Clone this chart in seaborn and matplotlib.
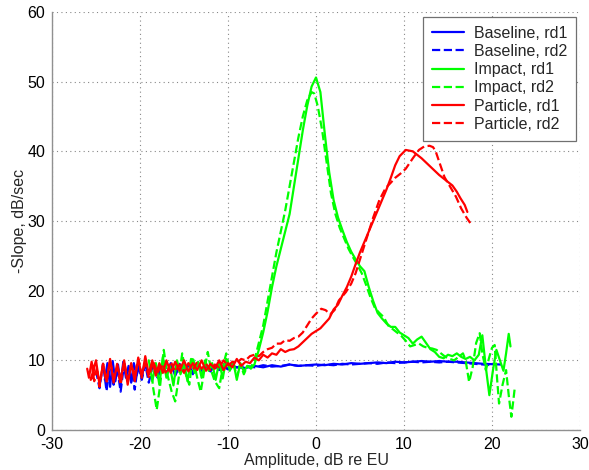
import numpy as np
import pandas as pd
import matplotlib
matplotlib.use("Agg")
import matplotlib.pyplot as plt
import seaborn as sns

# ---------------- data ----------------
base1_x = [-24.0,-23.7,-23.4,-23.1,-22.8,-22.5,-22.2,-21.9,-21.6,-21.3,
           -21.0,-20.7,-20.4,-20.1,-19.8,-19.5,-19.0,-18.5,-18.0,-17.5,
           -17.0,-16.5,-16.0,-15.5,-15.0,-14.5,-14.0,-13.5,-13.0,-12.5,
           -12.0,-11.5,-11.0,-10.5,-10.0,-9.5,-9.0,-8.0,-7.0,-6.0,
           -5.0,-4.0,-3.0,-2.0,-1.0,0.0,1.0,2.0,3.0,4.0,
           5.0,6.0,7.0,8.0,9.0,10.0,11.0,12.0,13.0,14.0,
           15.0,16.0,17.0,18.0,19.0,21.0]
base1_y = [7.2,9.6,6.2,9.9,7.0,9.4,6.5,9.8,7.5,9.2,
           6.8,9.6,7.8,9.0,7.4,9.5,8.0,9.3,7.8,9.4,
           8.2,9.2,8.0,9.5,8.4,9.3,8.3,9.4,8.6,9.2,
           8.5,9.3,8.8,9.1,8.7,9.2,9.0,8.9,9.2,9.0,
           9.3,9.1,9.4,9.2,9.3,9.4,9.3,9.5,9.4,9.6,
           9.5,9.6,9.7,9.6,9.8,9.7,9.8,9.9,9.8,9.9,
           9.8,9.8,9.7,9.6,9.5,9.4]

base2_x = [-25.0,-24.6,-24.2,-23.8,-23.4,-23.0,-22.6,-22.2,-21.8,-21.4,
           -21.0,-20.6,-20.2,-19.8,-19.4,-19.0,-18.5,-18.0,-17.5,-17.0,
           -16.5,-16.0,-15.5,-15.0,-14.5,-14.0,-13.5,-13.0,-12.5,-12.0,
           -11.5,-11.0,-10.5,-10.0,-9.0,-8.0,-7.0,-6.0,-5.0,-4.0,
           -3.0,-2.0,-1.0,0.0,1.0,2.0,3.0,4.0,5.0,6.0,
           7.0,8.0,9.0,10.0,11.0,12.0,13.0,14.0,15.0,16.0,
           17.0,18.0,19.0,20.0]
base2_y = [8.5,6.0,9.5,5.6,9.8,6.5,9.0,5.5,9.6,7.0,
           9.2,5.8,9.7,7.2,9.4,6.8,9.6,7.5,9.3,8.0,
           9.6,7.8,9.2,8.3,9.4,8.0,9.5,8.5,9.1,8.4,
           9.3,8.6,9.2,8.8,9.0,9.2,9.0,9.3,9.1,9.2,
           9.4,9.2,9.3,9.2,9.4,9.3,9.5,9.4,9.5,9.6,
           9.5,9.7,9.6,9.7,9.8,9.7,9.8,9.7,9.8,9.7,
           9.6,9.5,9.4,9.3]

imp1_x = [-19.0,-18.6,-18.2,-17.8,-17.4,-17.0,-16.6,-16.2,-15.8,-15.4,
          -15.0,-14.6,-14.2,-13.8,-13.4,-13.0,-12.6,-12.2,-11.8,-11.4,
          -11.0,-10.6,-10.2,-9.8,-9.4,-9.0,-8.6,-8.2,-7.8,-7.4,
          -7.0,-6.5,-6.0,-5.5,-5.0,-4.5,-4.0,-3.5,-3.0,-2.5,
          -2.0,-1.5,-1.0,-0.5,0.0,0.5,1.0,1.5,2.0,2.5,
          3.0,3.5,4.0,4.5,5.0,5.5,6.0,6.5,7.0,7.5,
          8.0,8.5,9.0,9.5,10.0,10.5,11.0,11.5,12.0,12.5,
          13.0,13.5,14.0,14.5,15.0,15.5,16.0,16.5,17.0,17.5,
          18.0,18.5,18.9,19.3,19.7,20.1,20.5,20.9,21.3,21.6,
          21.9,22.1]
imp1_y = [10.0,7.0,9.6,6.5,10.5,7.5,9.2,6.4,10.0,8.0,
          9.5,7.0,10.2,8.2,9.8,7.5,10.0,8.5,9.6,7.2,
          9.8,7.4,10.2,8.6,9.8,7.2,9.6,8.4,9.2,8.8,
          9.4,11.5,14.0,17.0,20.5,23.5,26.0,28.5,31.0,35.0,
          39.0,43.0,46.5,49.3,50.6,48.5,42.5,37.0,33.0,30.5,
          28.7,27.0,25.6,24.5,23.5,22.8,20.5,18.5,16.8,16.0,
          15.3,14.8,14.8,14.0,13.6,13.2,12.4,13.0,13.4,12.5,
          11.6,11.2,10.5,10.3,10.8,10.6,11.0,10.5,10.2,10.5,
          10.0,10.8,13.6,9.0,5.0,8.5,11.5,10.0,8.5,11.0,
          13.8,12.0]

imp2_x = [-18.8,-18.5,-18.1,-17.7,-17.3,-16.9,-16.4,-16.0,-15.6,-15.2,
          -14.8,-14.4,-14.0,-13.5,-13.1,-12.7,-12.3,-11.9,-11.5,-11.0,
          -10.6,-10.2,-9.8,-9.4,-9.0,-8.6,-8.2,-7.8,-7.4,-7.0,
          -6.5,-6.0,-5.5,-5.0,-4.5,-4.0,-3.5,-3.0,-2.5,-2.0,
          -1.5,-1.0,-0.5,-0.2,0.2,0.7,1.2,1.7,2.2,2.7,
          3.2,3.7,4.2,4.7,5.2,5.7,6.2,6.7,7.2,7.7,
          8.2,8.7,9.2,9.7,10.2,10.7,11.2,11.7,12.2,12.7,
          13.2,13.7,14.2,14.7,15.2,15.7,16.2,16.7,17.0,17.4,
          17.8,18.2,18.6,18.9,19.3,19.7,20.0,20.3,20.6,20.8,
          21.2,21.6,21.9,22.2,22.4,22.6]
imp2_y = [9.5,6.0,2.9,6.5,11.5,8.0,5.5,4.1,7.5,11.0,
          8.0,6.5,10.5,7.5,5.5,8.5,11.2,8.5,7.0,6.0,
          9.0,11.0,8.5,9.8,7.6,9.5,8.0,9.2,9.0,10.0,
          12.5,15.0,18.5,22.0,25.5,28.5,31.5,35.0,38.5,42.0,
          45.0,47.3,48.5,48.3,46.5,43.0,38.5,34.0,31.0,29.0,
          27.5,26.0,24.8,23.7,22.5,20.8,19.0,17.5,16.8,16.2,
          15.0,14.5,14.0,13.5,12.8,12.0,12.2,12.4,12.0,11.8,
          11.7,11.5,11.0,10.5,10.2,10.0,10.5,11.0,10.0,6.9,
          9.0,12.5,13.9,11.0,8.6,10.5,11.8,12.2,7.0,3.8,
          6.5,8.6,5.0,1.9,4.0,6.2]

part1_x = [-26.0,-25.8,-25.5,-25.2,-25.6,-25.0,-24.6,-24.2,-23.8,-23.4,
           -23.0,-22.6,-22.2,-21.8,-21.4,-21.0,-20.6,-20.2,-19.8,-19.4,
           -19.0,-18.6,-18.2,-17.8,-17.4,-17.0,-16.5,-16.0,-15.5,-15.0,
           -14.5,-14.0,-13.5,-13.0,-12.5,-12.0,-11.5,-11.0,-10.5,-10.0,
           -9.5,-9.0,-8.5,-8.0,-7.5,-7.0,-6.5,-6.0,-5.5,-5.0,
           -4.5,-4.0,-3.5,-3.0,-2.5,-2.0,-1.5,-1.0,-0.5,0.0,
           0.5,1.0,1.5,2.0,2.5,3.0,3.5,4.0,4.5,5.0,
           5.5,6.0,6.5,7.0,7.5,8.0,8.5,9.0,9.5,10.2,
           11.0,11.5,12.0,12.5,13.0,13.5,14.0,14.5,15.0,15.5,
           16.0,16.4,16.9,17.2]
part1_y = [8.8,7.5,9.8,8.0,7.2,10.0,6.5,9.5,7.0,10.2,
           6.8,9.5,7.2,10.0,6.5,9.6,7.0,10.4,7.5,10.6,
           8.0,10.0,7.8,9.6,8.2,10.0,8.2,9.8,8.5,10.0,
           8.4,9.6,8.6,10.0,8.5,9.5,8.8,10.0,8.6,9.6,
           9.0,10.2,9.2,9.8,9.6,10.4,10.0,10.8,10.4,11.0,
           10.8,11.6,11.2,11.5,11.6,12.0,12.6,13.2,13.8,14.2,
           14.6,15.3,16.0,17.3,18.0,19.3,20.5,22.0,23.8,25.5,
           27.0,28.5,30.0,31.5,33.0,34.5,36.2,38.0,39.3,40.2,
           40.0,39.5,39.0,38.4,37.8,37.2,36.6,36.1,35.6,35.1,
           34.2,33.3,32.3,31.3]

part2_x = [-25.5,-25.2,-24.9,-24.6,-24.2,-23.8,-23.4,-23.0,-22.6,-22.2,
           -21.8,-21.4,-21.0,-20.6,-20.2,-19.8,-19.4,-19.0,-18.5,-18.0,
           -17.5,-17.0,-16.5,-16.0,-15.5,-15.0,-14.5,-14.0,-13.5,-13.0,
           -12.5,-12.0,-11.5,-11.0,-10.5,-10.0,-9.5,-9.0,-8.5,-8.0,
           -7.5,-7.0,-6.5,-6.0,-5.5,-5.0,-4.5,-4.0,-3.5,-3.0,
           -2.5,-2.0,-1.5,-1.0,-0.5,0.0,0.6,1.1,1.6,2.1,
           2.6,3.0,3.4,4.0,4.5,5.0,5.5,6.0,6.5,7.2,
           7.9,8.5,9.0,9.6,10.2,11.0,11.7,12.3,12.9,13.3,
           13.6,14.0,14.6,15.3,15.9,16.5,17.1,17.7]
part2_y = [9.5,7.0,9.0,6.2,9.5,6.8,10.0,7.5,9.0,6.5,
           9.8,7.2,9.4,7.8,10.2,8.0,9.5,7.6,9.8,8.2,
           9.5,8.0,9.8,8.4,9.4,8.2,9.6,8.6,9.8,8.8,
           9.5,8.6,9.4,9.0,10.0,9.2,9.8,9.6,10.2,10.0,
           10.6,10.8,10.6,11.2,11.6,11.8,12.4,12.4,12.9,12.8,
           13.2,13.4,14.0,15.0,16.0,16.7,17.4,17.2,16.6,17.2,
           18.6,19.2,19.8,21.0,22.5,24.5,26.5,28.5,30.5,33.0,
           34.7,35.5,36.2,36.8,37.5,39.0,40.2,40.7,40.8,40.6,
           40.0,38.5,36.3,34.8,33.5,31.8,30.5,29.4]

series_labels = ["Baseline, rd1", "Baseline, rd2", "Impact, rd1",
                 "Impact, rd2", "Particle, rd1", "Particle, rd2"]
x_ticks = [-30, -20, -10, 0, 10, 20, 30]
y_ticks = [0, 10, 20, 30, 40, 50, 60]

# ---------------- styling ----------------
sns.set_style("white")
plt.rcParams["font.family"] = ["Liberation Sans", "DejaVu Sans"]
plt.rcParams["font.size"] = 11.5
plt.rcParams["axes.unicode_minus"] = False

fig = plt.figure(figsize=(5.89, 4.70), dpi=100)
ax = fig.add_axes([52/589, 40/470, 528/589, 418/470])

series = [
    (base1_x, base1_y, "#0000ff", "-"),
    (base2_x, base2_y, "#0000ff", "--"),
    (imp1_x, imp1_y, "#00ff00", "-"),
    (imp2_x, imp2_y, "#00ff00", "--"),
    (part1_x, part1_y, "#ff0000", "-"),
    (part2_x, part2_y, "#ff0000", "--"),
]
for (xs, ys, col, ls), lab in zip(series, series_labels):
    df = pd.DataFrame({"x": xs, "y": ys})
    sns.lineplot(data=df, x="x", y="y", sort=False, estimator=None,
                 color=col, linestyle=ls, linewidth=1.6, label=lab, ax=ax)

ax.set_xlim(-30, 30)
ax.set_ylim(0, 60)
ax.set_xticks(x_ticks)
ax.set_yticks(y_ticks)
ax.set_xlabel("Amplitude, dB re EU", fontsize=11.5, labelpad=1)
ax.set_ylabel("-Slope, dB/sec", fontsize=11.5, labelpad=0)
ax.grid(True, linestyle=(0, (1, 3)), color="#888888", linewidth=0.8)
ax.tick_params(direction="in", length=4, color="#909090", labelsize=11.5,
               labelcolor="black")
ax.tick_params(axis="x", pad=5)
ax.tick_params(axis="y", pad=5)
for s in ["top", "right"]:
    ax.spines[s].set_visible(False)
for s in ["left", "bottom"]:
    ax.spines[s].set_color("#909090")
    ax.spines[s].set_linewidth(1.0)

leg = ax.legend(loc="upper right", bbox_to_anchor=(0.992, 0.988),
                borderaxespad=0, fancybox=False, framealpha=1,
                edgecolor="#707070", fontsize=11.5, handlelength=2.0,
                labelspacing=0.2, borderpad=0.55, handletextpad=0.6)
leg.get_frame().set_linewidth(0.9)

fig.savefig("out.png", dpi=100)
